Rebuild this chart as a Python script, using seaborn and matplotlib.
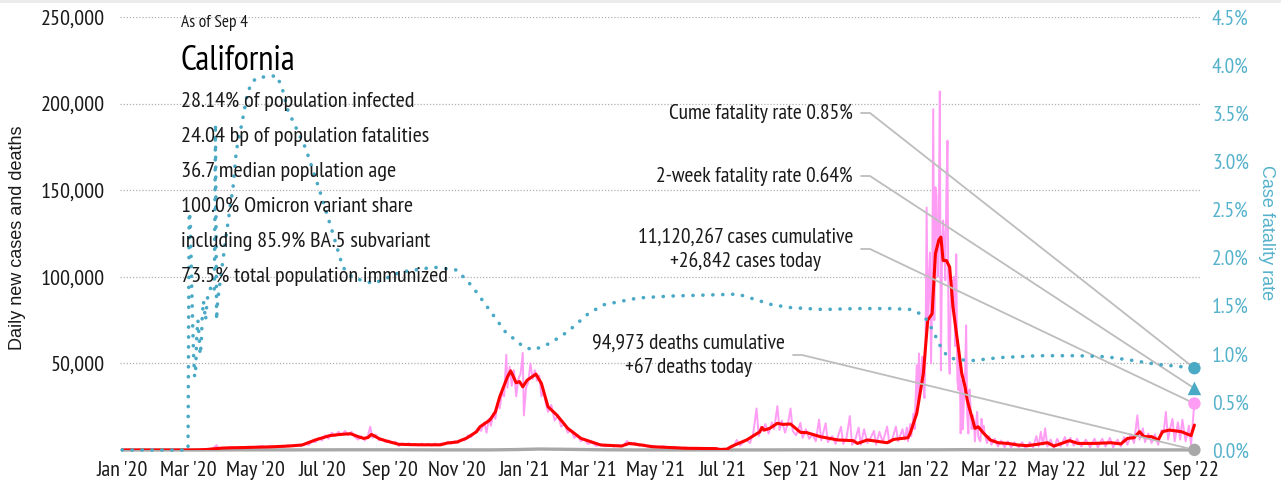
import numpy as np
import pandas as pd
import matplotlib
matplotlib.use("Agg")
import matplotlib.pyplot as plt
from matplotlib.lines import Line2D
from matplotlib.patches import Rectangle
from matplotlib.ticker import FixedLocator, FuncFormatter
import seaborn as sns

sns.set_theme(style="white")
NARROW = ['PT Sans Narrow', 'Archivo Narrow', 'DejaVu Sans']
REG = ['Liberation Sans', 'DejaVu Sans']
plt.rcParams['font.family'] = NARROW

# ---------------- data ----------------
red_avg = [
    ("2020-01-01", 0), ("2020-02-15", 0), ("2020-03-01", 10), ("2020-03-10", 80), ("2020-03-18", 300),
    ("2020-03-25", 700), ("2020-04-01", 1100), ("2020-04-10", 1300), ("2020-04-20", 1400), ("2020-05-01", 1600),
    ("2020-05-15", 1800), ("2020-06-01", 2300), ("2020-06-13", 2900), ("2020-06-25", 5800), ("2020-07-08", 8300),
    ("2020-07-18", 9000), ("2020-07-27", 9400), ("2020-08-04", 7500), ("2020-08-08", 6700), ("2020-08-12", 7200),
    ("2020-08-15", 9000), ("2020-08-23", 6300), ("2020-08-31", 4800), ("2020-09-09", 3300), ("2020-09-20", 3100),
    ("2020-09-30", 3000), ("2020-10-17", 3000), ("2020-10-23", 4000), ("2020-11-01", 4600), ("2020-11-10", 6900),
    ("2020-11-19", 10600), ("2020-11-22", 13400), ("2020-12-01", 17300), ("2020-12-06", 22000), ("2020-12-10", 30700),
    ("2020-12-17", 42200), ("2020-12-20", 45700), ("2020-12-25", 38800), ("2020-12-28", 39500), ("2020-12-31", 36500),
    ("2021-01-04", 40300), ("2021-01-12", 43800), ("2021-01-17", 38400), ("2021-01-23", 25000), ("2021-01-31", 20200),
    ("2021-02-10", 12500), ("2021-02-22", 6700), ("2021-03-12", 2900), ("2021-03-31", 2300), ("2021-04-07", 3800),
    ("2021-04-18", 2900), ("2021-04-28", 1900), ("2021-05-29", 1000), ("2021-06-25", 800), ("2021-06-28", 300),
    ("2021-07-05", 500), ("2021-07-10", 2300), ("2021-07-23", 5800), ("2021-08-04", 10500), ("2021-08-06", 13000),
    ("2021-08-08", 11500), ("2021-08-13", 12500), ("2021-08-20", 15400), ("2021-08-25", 14800), ("2021-09-01", 15000),
    ("2021-09-10", 10200), ("2021-09-16", 10000), ("2021-09-28", 7700), ("2021-10-14", 5800), ("2021-10-28", 5400),
    ("2021-11-01", 3800), ("2021-11-10", 5800), ("2021-11-28", 4200), ("2021-12-04", 6100), ("2021-12-17", 7100),
    ("2021-12-19", 9600), ("2021-12-25", 21100), ("2021-12-31", 44200), ("2022-01-04", 74900), ("2022-01-08", 78700),
    ("2022-01-11", 113300), ("2022-01-14", 121000), ("2022-01-16", 122900), ("2022-01-18", 109400), ("2022-01-21", 109400),
    ("2022-01-24", 105600), ("2022-01-27", 82600), ("2022-01-31", 63400), ("2022-02-04", 44200), ("2022-02-07", 36500),
    ("2022-02-09", 28800), ("2022-02-11", 24000), ("2022-02-14", 17300), ("2022-02-16", 12500), ("2022-02-19", 13400),
    ("2022-02-24", 9600), ("2022-03-02", 5800), ("2022-03-09", 4200), ("2022-03-18", 3800), ("2022-03-27", 2900),
    ("2022-04-05", 2500), ("2022-04-14", 3300), ("2022-04-23", 4200), ("2022-04-29", 2300), ("2022-05-06", 3800),
    ("2022-05-13", 5400), ("2022-05-21", 3800), ("2022-06-05", 3800), ("2022-06-20", 4200), ("2022-06-29", 3500),
    ("2022-07-05", 6700), ("2022-07-11", 7100), ("2022-07-16", 10600), ("2022-07-20", 7700), ("2022-07-27", 7700),
    ("2022-08-02", 5800), ("2022-08-06", 10600), ("2022-08-12", 11500), ("2022-08-23", 10600), ("2022-09-01", 8300),
    ("2022-09-04", 14400),
]

pink_daily = [
    ("2020-01-01", 0), ("2020-02-20", 0), ("2020-03-05", 20), ("2020-03-15", 200), ("2020-03-20", 500),
    ("2020-03-24", 1000), ("2020-03-27", 2800), ("2020-03-29", 400), ("2020-04-02", 1300), ("2020-04-05", 900),
    ("2020-04-09", 1700), ("2020-04-13", 1000), ("2020-04-17", 1600), ("2020-04-21", 1100), ("2020-04-25", 1900),
    ("2020-04-29", 1300), ("2020-05-03", 1800), ("2020-05-07", 2300), ("2020-05-11", 1500), ("2020-05-15", 2200),
    ("2020-05-19", 1600), ("2020-05-23", 2400), ("2020-05-27", 1700), ("2020-05-31", 2800), ("2020-06-04", 2200),
    ("2020-06-08", 3000), ("2020-06-12", 2400), ("2020-06-16", 3500), ("2020-06-19", 3000), ("2020-06-22", 5000),
    ("2020-06-25", 4500), ("2020-06-28", 7000), ("2020-07-01", 5500), ("2020-07-04", 8500), ("2020-07-07", 6500),
    ("2020-07-10", 10000), ("2020-07-13", 8000), ("2020-07-16", 10500), ("2020-07-19", 8500), ("2020-07-22", 11000),
    ("2020-07-25", 8500), ("2020-07-28", 10500), ("2020-07-31", 7500), ("2020-08-03", 6000), ("2020-08-06", 8000),
    ("2020-08-09", 5500), ("2020-08-12", 8500), ("2020-08-14", 13500), ("2020-08-16", 7000), ("2020-08-19", 9000),
    ("2020-08-22", 5500), ("2020-08-25", 6500), ("2020-08-28", 4500), ("2020-08-31", 5500), ("2020-09-03", 4000),
    ("2020-09-06", 4800), ("2020-09-09", 2300), ("2020-09-12", 3800), ("2020-09-15", 2800), ("2020-09-18", 3900),
    ("2020-09-21", 2700), ("2020-09-24", 3500), ("2020-09-27", 2600), ("2020-09-30", 3700), ("2020-10-03", 2800),
    ("2020-10-06", 3600), ("2020-10-09", 2500), ("2020-10-12", 3800), ("2020-10-15", 2700), ("2020-10-18", 3900),
    ("2020-10-21", 3200), ("2020-10-24", 4800), ("2020-10-27", 3600), ("2020-10-30", 5200), ("2020-11-02", 4000),
    ("2020-11-05", 6000), ("2020-11-08", 5500), ("2020-11-11", 8500), ("2020-11-14", 7500), ("2020-11-17", 10000),
    ("2020-11-20", 12500), ("2020-11-23", 11000), ("2020-11-26", 16000), ("2020-11-28", 10000), ("2020-11-30", 18000),
    ("2020-12-02", 14000), ("2020-12-04", 21000), ("2020-12-06", 18000), ("2020-12-08", 27000), ("2020-12-10", 24000),
    ("2020-12-12", 33000), ("2020-12-14", 31000), ("2020-12-16", 55000), ("2020-12-17", 36000), ("2020-12-19", 48000),
    ("2020-12-21", 37000), ("2020-12-23", 46000), ("2020-12-25", 31000), ("2020-12-27", 41000), ("2020-12-29", 44000),
    ("2020-12-31", 56000), ("2021-01-01", 20000), ("2021-01-03", 36000), ("2021-01-05", 39000), ("2021-01-07", 50000),
    ("2021-01-09", 41000), ("2021-01-11", 46000), ("2021-01-13", 40000), ("2021-01-15", 43000), ("2021-01-17", 31000),
    ("2021-01-19", 34000), ("2021-01-21", 27000), ("2021-01-23", 22000), ("2021-01-26", 26000), ("2021-01-29", 17000),
    ("2021-02-01", 20000), ("2021-02-04", 13500), ("2021-02-07", 15000), ("2021-02-10", 10000), ("2021-02-13", 11500),
    ("2021-02-16", 7000), ("2021-02-19", 8500), ("2021-02-22", 5000), ("2021-02-25", 6500), ("2021-02-28", 3500),
    ("2021-03-04", 4200), ("2021-03-08", 2400), ("2021-03-12", 3300), ("2021-03-16", 2100), ("2021-03-20", 3000),
    ("2021-03-24", 2000), ("2021-03-28", 2900), ("2021-04-01", 2000), ("2021-04-05", 5200), ("2021-04-08", 3000),
    ("2021-04-12", 4300), ("2021-04-16", 2400), ("2021-04-20", 3200), ("2021-04-24", 1800), ("2021-04-28", 2500),
    ("2021-05-03", 1500), ("2021-05-08", 2200), ("2021-05-13", 1300), ("2021-05-18", 1900), ("2021-05-23", 1000),
    ("2021-05-28", 1500), ("2021-06-02", 800), ("2021-06-07", 1300), ("2021-06-12", 700), ("2021-06-17", 1200),
    ("2021-06-22", 600), ("2021-06-27", 1100), ("2021-07-01", 0), ("2021-07-05", 300), ("2021-07-08", 2000),
    ("2021-07-11", 1800), ("2021-07-14", 5800), ("2021-07-17", 2500), ("2021-07-20", 4500), ("2021-07-23", 6000),
    ("2021-07-26", 4000), ("2021-07-29", 9500), ("2021-08-01", 24000), ("2021-08-03", 8000), ("2021-08-05", 13500),
    ("2021-08-07", 11000), ("2021-08-09", 15000), ("2021-08-12", 9500), ("2021-08-15", 16000), ("2021-08-17", 12000),
    ("2021-08-20", 25300), ("2021-08-22", 11500), ("2021-08-24", 17000), ("2021-08-27", 10000), ("2021-08-30", 16500),
    ("2021-09-01", 24000), ("2021-09-03", 11000), ("2021-09-06", 8500), ("2021-09-10", 15700), ("2021-09-12", 7000),
    ("2021-09-15", 12000), ("2021-09-18", 6500), ("2021-09-21", 9000), ("2021-09-24", 5000), ("2021-09-27", 17600),
    ("2021-09-29", 5500), ("2021-10-03", 15400), ("2021-10-05", 4500), ("2021-10-09", 8000), ("2021-10-12", 3500),
    ("2021-10-17", 13400), ("2021-10-19", 3500), ("2021-10-22", 7000), ("2021-10-25", 19600), ("2021-10-27", 3000),
    ("2021-10-30", 6000), ("2021-11-02", 13000), ("2021-11-04", 3000), ("2021-11-07", 12000), ("2021-11-10", 4000),
    ("2021-11-13", 7000), ("2021-11-16", 11000), ("2021-11-18", 3000), ("2021-11-21", 10500), ("2021-11-24", 4500),
    ("2021-11-28", 13500), ("2021-11-30", 4000), ("2021-12-03", 7000), ("2021-12-06", 13500), ("2021-12-08", 5000),
    ("2021-12-12", 12000), ("2021-12-14", 6000), ("2021-12-16", 13000), ("2021-12-17", 5000), ("2021-12-19", 15000),
    ("2021-12-20", 8000), ("2021-12-22", 21000), ("2021-12-23", 12000), ("2021-12-25", 49000), ("2021-12-26", 25000),
    ("2021-12-27", 55700), ("2021-12-28", 35000), ("2021-12-29", 42000), ("2021-12-30", 53800), ("2021-12-31", 38000),
    ("2022-01-01", 30000), ("2022-01-02", 60000), ("2022-01-03", 140000), ("2022-01-04", 75000), ("2022-01-05", 95000),
    ("2022-01-06", 114000), ("2022-01-07", 50000), ("2022-01-08", 85000), ("2022-01-09", 196800), ("2022-01-10", 75000),
    ("2022-01-11", 151700), ("2022-01-12", 147000), ("2022-01-13", 100000), ("2022-01-14", 125000), ("2022-01-15", 207000),
    ("2022-01-16", 46000), ("2022-01-17", 110000), ("2022-01-18", 132500), ("2022-01-19", 120000), ("2022-01-20", 98000),
    ("2022-01-21", 150000), ("2022-01-22", 178600), ("2022-01-23", 60000), ("2022-01-24", 44000), ("2022-01-25", 90000),
    ("2022-01-26", 98000), ("2022-01-27", 80000), ("2022-01-28", 100000), ("2022-01-29", 60000), ("2022-01-30", 113000),
    ("2022-01-31", 40000), ("2022-02-01", 34600), ("2022-02-02", 55000), ("2022-02-03", 9600), ("2022-02-04", 40000),
    ("2022-02-05", 12000), ("2022-02-06", 30000), ("2022-02-07", 45000), ("2022-02-08", 72000), ("2022-02-09", 20000),
    ("2022-02-10", 9600), ("2022-02-11", 35000), ("2022-02-12", 25000), ("2022-02-13", 12000), ("2022-02-14", 20000),
    ("2022-02-15", 17000), ("2022-02-16", 5000), ("2022-02-17", 15000), ("2022-02-18", 22000), ("2022-02-19", 8000),
    ("2022-02-20", 6000), ("2022-02-21", 5000), ("2022-02-22", 18000), ("2022-02-23", 12000), ("2022-02-24", 14000),
    ("2022-02-25", 9000), ("2022-02-27", 4000), ("2022-03-01", 8000), ("2022-03-03", 3000), ("2022-03-06", 6500),
    ("2022-03-09", 2000), ("2022-03-12", 5500), ("2022-03-15", 1500), ("2022-03-18", 5000), ("2022-03-21", 1500),
    ("2022-03-24", 4500), ("2022-03-28", 1500), ("2022-03-31", 4500), ("2022-04-03", 1000), ("2022-04-07", 4500),
    ("2022-04-10", 1500), ("2022-04-13", 8000), ("2022-04-15", 2000), ("2022-04-17", 10500), ("2022-04-19", 3000),
    ("2022-04-21", 12500), ("2022-04-23", 2000), ("2022-04-26", 6000), ("2022-04-29", 1000), ("2022-05-02", 6500),
    ("2022-05-05", 2000), ("2022-05-09", 7500), ("2022-05-11", 2500), ("2022-05-14", 7000), ("2022-05-17", 2500),
    ("2022-05-20", 6500), ("2022-05-24", 2000), ("2022-05-28", 6000), ("2022-06-01", 1500), ("2022-06-05", 6500),
    ("2022-06-08", 1500), ("2022-06-12", 6500), ("2022-06-15", 2000), ("2022-06-19", 7000), ("2022-06-22", 1500),
    ("2022-06-26", 6000), ("2022-06-29", 2000), ("2022-07-02", 7500), ("2022-07-05", 3000), ("2022-07-08", 9000),
    ("2022-07-11", 4000), ("2022-07-14", 20000), ("2022-07-16", 6000), ("2022-07-19", 12500), ("2022-07-21", 4500),
    ("2022-07-24", 9500), ("2022-07-27", 4000), ("2022-07-30", 9000), ("2022-08-02", 3000), ("2022-08-05", 11500),
    ("2022-08-07", 10000), ("2022-08-09", 22000), ("2022-08-11", 6000), ("2022-08-13", 12500), ("2022-08-15", 18000),
    ("2022-08-17", 5000), ("2022-08-20", 16000), ("2022-08-22", 6000), ("2022-08-24", 17500), ("2022-08-27", 5000),
    ("2022-08-30", 14000), ("2022-09-01", 3000), ("2022-09-03", 20000), ("2022-09-04", 26842),
]

deaths_daily = [
    ("2020-01-01", 0), ("2020-03-15", 5), ("2020-04-15", 80), ("2020-06-01", 60), ("2020-07-25", 130),
    ("2020-09-01", 120), ("2020-10-15", 60), ("2020-12-01", 60), ("2020-12-25", 250), ("2021-01-15", 550),
    ("2021-02-01", 450), ("2021-02-20", 300), ("2021-03-15", 100), ("2021-04-15", 40), ("2021-06-15", 20),
    ("2021-08-15", 50), ("2021-09-10", 100), ("2021-11-01", 40), ("2021-12-15", 40), ("2022-01-15", 100),
    ("2022-02-05", 200), ("2022-03-01", 120), ("2022-04-01", 40), ("2022-06-01", 20), ("2022-08-01", 40),
    ("2022-09-04", 67),
]

cfr_pct = [
    ("2020-01-01", 0), ("2020-03-01", 0), ("2020-03-02", 2.47), ("2020-03-03", 2.4), ("2020-03-04", 1.9),
    ("2020-03-05", 1.4), ("2020-03-06", 1.0), ("2020-03-07", 0.76), ("2020-03-08", 0.85), ("2020-03-09", 1.2),
    ("2020-03-10", 1.35), ("2020-03-11", 1.2), ("2020-03-12", 0.99), ("2020-03-13", 1.1), ("2020-03-14", 1.4),
    ("2020-03-15", 1.55), ("2020-03-16", 1.45), ("2020-03-17", 1.35), ("2020-03-18", 1.5), ("2020-03-19", 1.6),
    ("2020-03-20", 1.63), ("2020-03-22", 1.7), ("2020-03-24", 1.65), ("2020-03-25", 1.68), ("2020-03-26", 3.39),
    ("2020-03-27", 1.35), ("2020-03-28", 1.55), ("2020-03-30", 1.73), ("2020-04-05", 2.25), ("2020-04-11", 2.73),
    ("2020-04-14", 3.11), ("2020-04-19", 3.39), ("2020-04-24", 3.70), ("2020-04-28", 3.82), ("2020-05-03", 3.87),
    ("2020-05-12", 3.88), ("2020-05-21", 3.89), ("2020-05-26", 3.75), ("2020-05-31", 3.53), ("2020-06-16", 3.14),
    ("2020-06-28", 2.73), ("2020-07-11", 2.25), ("2020-07-20", 1.90), ("2020-07-29", 1.79), ("2020-08-17", 1.73),
    ("2020-09-11", 1.85), ("2020-10-11", 1.90), ("2020-11-01", 1.87), ("2020-11-15", 1.70), ("2020-12-01", 1.45),
    ("2020-12-15", 1.23), ("2021-01-01", 1.07), ("2021-01-10", 1.04), ("2021-01-25", 1.11), ("2021-02-10", 1.23),
    ("2021-03-01", 1.42), ("2021-03-15", 1.51), ("2021-04-15", 1.58), ("2021-05-15", 1.60), ("2021-06-15", 1.61),
    ("2021-07-15", 1.62), ("2021-08-01", 1.56), ("2021-08-15", 1.51), ("2021-09-01", 1.48), ("2021-10-01", 1.46),
    ("2021-11-01", 1.47), ("2021-12-01", 1.47), ("2021-12-20", 1.46), ("2021-12-31", 1.40), ("2022-01-05", 1.32),
    ("2022-01-10", 1.21), ("2022-01-15", 1.09), ("2022-01-22", 0.97), ("2022-01-30", 0.94), ("2022-02-15", 0.93),
    ("2022-03-10", 0.96), ("2022-04-15", 0.98), ("2022-05-20", 0.98), ("2022-06-15", 0.97), ("2022-07-10", 0.93),
    ("2022-08-01", 0.89), ("2022-08-20", 0.87), ("2022-09-04", 0.85),
]

last_date = "2022-09-04"
cume_cfr = 0.85
twoweek_cfr = 0.64
cases_today = 26842
deaths_today = 67
cases_cum = 11120267
deaths_cum = 94973

x_tick_dates = ["2020-01-01", "2020-03-01", "2020-05-01", "2020-07-01", "2020-09-01", "2020-11-01",
                "2021-01-01", "2021-03-01", "2021-05-01", "2021-07-01", "2021-09-01", "2021-11-01",
                "2022-01-01", "2022-03-01", "2022-05-01", "2022-07-01", "2022-09-01"]
x_tick_labels = ["Jan '20", "Mar '20", "May '20", "Jul '20", "Sep '20", "Nov '20",
                 "Jan '21", "Mar '21", "May '21", "Jul '21", "Sep '21", "Nov '21",
                 "Jan '22", "Mar '22", "May '22", "Jul '22", "Sep '22"]
left_ticks = [0, 50000, 100000, 150000, 200000, 250000]
right_ticks = [0.0, 0.5, 1.0, 1.5, 2.0, 2.5, 3.0, 3.5, 4.0, 4.5]

info_lines = ["28.14% of population infected", "24.04 bp of population fatalities",
              "36.7 median population age", "100.0% Omicron variant share",
              "including 85.9% BA.5 subvariant", "73.5% total population immunized"]


def to_df(pairs, col):
    d = pd.DataFrame(pairs, columns=["date", col])
    d["date"] = pd.to_datetime(d["date"])
    return d

red_df = to_df(red_avg, "v")
pink_df = to_df(pink_daily, "v")
death_df = to_df(deaths_daily, "v")
cfr_df = to_df(cfr_pct, "v")

# ---------------- colours ----------------
PINK = "#ff9cf4"
RED = "#ff0000"
BLUE = "#4aaac6"
BLUE_TXT = "#55b2cb"
GRAY_LINE = "#a8a8a8"
ANN = "#bdbdbd"
GRID = "#b0b0b0"
TXT = "#1a1a1a"

# ---------------- figure ----------------
W, H = 1281, 488
fig = plt.figure(figsize=(W / 100, H / 100), dpi=100)
fig.patch.set_facecolor("white")
ax = fig.add_axes([120 / W, 38 / H, 1081 / W, 433 / H])
ax2 = ax.twinx()
for a in (ax, ax2):
    a.set_facecolor("none")
    for s in a.spines.values():
        s.set_visible(False)
ax.set_zorder(1)
ax2.set_zorder(2)

sns.lineplot(data=pink_df, x="date", y="v", ax=ax, color=PINK, linewidth=1.4, zorder=2)
sns.lineplot(data=death_df, x="date", y="v", ax=ax, color=GRAY_LINE, linewidth=2.4, zorder=3)
ax.lines[-1].set_clip_on(False)
sns.lineplot(data=red_df, x="date", y="v", ax=ax, color=RED, linewidth=2.2, zorder=3)
sns.lineplot(data=cfr_df, x="date", y="v", ax=ax2, color=BLUE, linewidth=2.6, zorder=3)
cl = ax2.lines[-1]
cl.set_dashes((0.05, 2.7))
cl.set_dash_capstyle("round")
cl.set_clip_on(False)

# end markers
ld = pd.to_datetime([last_date])
sns.scatterplot(x=ld, y=[cases_today], ax=ax, color=PINK, s=80, edgecolor="none", zorder=6)
sns.scatterplot(x=ld, y=[deaths_today], ax=ax, color="#a8a8a8", s=80, edgecolor="none", zorder=6)
sns.scatterplot(x=ld, y=[cume_cfr], ax=ax2, color=BLUE, s=80, edgecolor="none", zorder=6)
sns.scatterplot(x=ld, y=[twoweek_cfr], ax=ax2, color=BLUE, s=95, marker="^", edgecolor="none", zorder=6)
for a in (ax, ax2):
    for c in a.collections:
        c.set_clip_on(False)

xmin, xmax = pd.Timestamp("2019-12-30"), pd.Timestamp("2022-09-10")
ax.set_xlim(xmin, xmax)
ax.set_ylim(0, 250000)
ax2.set_ylim(0, 4.5)

ax.yaxis.set_major_locator(FixedLocator(left_ticks))
ax.yaxis.set_major_formatter(FuncFormatter(lambda v, p: "" if v == 0 else f"{int(v):,}"))
ax2.yaxis.set_major_locator(FixedLocator(right_ticks))
ax2.yaxis.set_major_formatter(FuncFormatter(lambda v, p: f"{v:.1f}%"))
ax.set_xticks(pd.to_datetime(x_tick_dates))
ax.set_xticklabels(x_tick_labels)
ax.tick_params(axis="y", length=0, pad=11, labelsize=16, labelcolor=TXT)
ax.tick_params(axis="x", length=0, pad=8, labelsize=16, labelcolor=TXT)
ax2.tick_params(axis="y", length=0, pad=8, labelsize=15.5, labelcolor=BLUE_TXT)
ax.grid(axis="y", linestyle=(0, (1, 1.5)), color=GRID, linewidth=0.9)
ax.grid(axis="x", visible=False)
ax2.grid(False)
for a in (ax, ax2):
    a.set_xlabel("")
    a.set_ylabel("")

# axis titles
fig.text(18 / W, 1 - 238 / H, "Daily new cases and deaths", rotation=90, ha="center", va="center",
         fontsize=13, family=REG, color=TXT)
fig.text(1266 / W, 1 - 233 / H, "Case fatality rate", rotation=270, ha="center", va="center",
         fontsize=13, family=REG, color=BLUE_TXT)

# top band
fig.patches.append(Rectangle((0, 1 - 3 / H), 1, 3 / H, transform=fig.transFigure,
                             facecolor="#ececec", edgecolor="none"))

# info block
fig.text(181 / W, 1 - 23 / H, "As of Sep 4", ha="left", va="center", fontsize=12.5, color=TXT)
fig.text(180 / W, 1 - 61 / H, "California", ha="left", va="center", fontsize=25, color="#000000")
for i, line in enumerate(info_lines):
    fig.text(181 / W, 1 - (101 + 35 * i) / H, line, ha="left", va="center", fontsize=16, color=TXT)

# annotations
annots = [
    (f"Cume fatality rate {cume_cfr:.2f}%", 853, 113, ax2, cume_cfr),
    (f"2-week fatality rate {twoweek_cfr:.2f}%", 853, 176, ax2, twoweek_cfr),
    (f"{cases_cum:,} cases cumulative\n+{cases_today:,} cases today", 853, 249, ax, cases_today),
    (f"{deaths_cum:,} deaths cumulative\n+{deaths_today:,} deaths today", 785, 355, ax, deaths_today),
]
inv = fig.transFigure.inverted()
xd = matplotlib.dates.date2num(ld[0])
for text, xr, yc, a, val in annots:
    fig.text(xr / W, 1 - yc / H, text, ha="right", va="center", multialignment="center",
             fontsize=15.5, color=TXT, linespacing=1.3)
    px, py = a.transData.transform((xd, val))
    fx, fy = inv.transform((px, py))
    xs = [(xr + 8) / W, (xr + 17) / W, fx]
    ys = [1 - yc / H, 1 - yc / H, fy]
    ax.add_line(Line2D(xs, ys, transform=fig.transFigure, color=ANN, linewidth=1.3,
                       zorder=4, clip_on=False))

fig.savefig("out.png", dpi=100)
